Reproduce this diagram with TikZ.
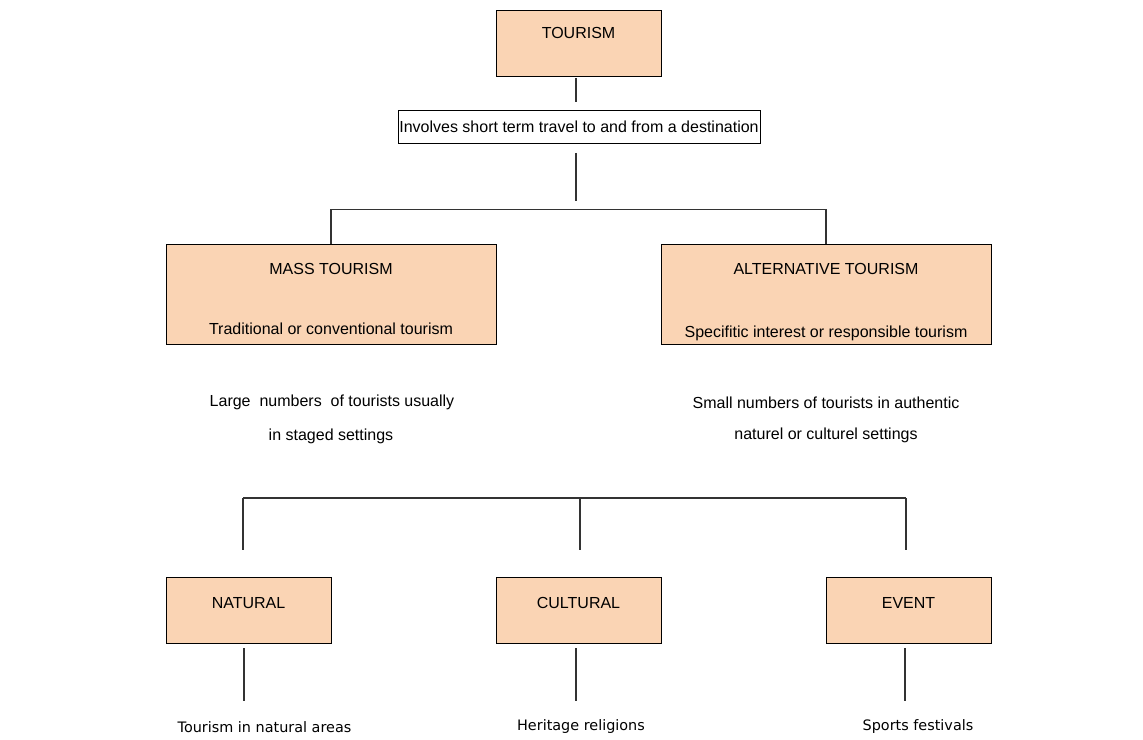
\documentclass[tikz,border=0pt]{standalone}
\usepackage{fontspec}
\setmainfont{Liberation Sans}
\newfontfamily\verdanafont{DejaVu Sans}
\usepackage{tikz}
\usetikzlibrary{positioning,calc}
\definecolor{peach}{HTML}{FAD4B4}

\begin{document}
\begin{tikzpicture}[x=1pt,y=-1pt,
    box/.style={draw, fill=peach, line width=0.9pt, inner sep=0pt},
    txt/.style={font=\fontsize{16}{18}\selectfont, inner sep=0pt},
    small/.style={font=\verdanafont\fontsize{14.4}{17}\selectfont, inner sep=0pt},
    conn/.style={draw=black!80, line width=1.3pt}]
    \useasboundingbox (0,0) rectangle (1143,739);

    \node[box, minimum width=165, minimum height=66] (tourism) at (578.5,43) {};
    \node[txt] (tourismtxt) at (578.5,33) {TOURISM};
    \node[draw, fill=white, line width=0.9pt, txt, minimum width=362, minimum height=33] (involves) at (579,127) {Involves short term travel to and from a destination};

    \node[box, minimum width=330, minimum height=100] (mass) at (331,294) {};
    \node[txt] (masstitle) at (331,269) {MASS TOURISM};
    \node[txt] (masssub) at (331,329) {Traditional or conventional tourism};
    \node[box, minimum width=330, minimum height=100] (alt) at (826,294) {};
    \node[txt] (alttitle) at (826,269) {ALTERNATIVE TOURISM};
    \node[txt] (altsub) at (826,333) {Specifitic interest or responsible tourism};

    \draw[conn] ($(tourism.south)+(-2.5,2)$) -- ($(involves.north)+(-3,-8)$);
    \draw[conn] ($(involves.south)+(-3,9)$) -- ++(0,48);
    \draw[conn] (mass.north) -- ++(0,-34) -| (alt.north);

    \node[txt] (massnote1) at (332,402) {Large\ \ numbers\ \ of tourists usually};
    \node[txt] (massnote2) at (331,436) {in staged settings};
    \node[txt] (altnote1) at (826,403) {Small numbers of tourists in authentic};
    \node[txt] (altnote2) at (826,435) {naturel or culturel settings};

    % forms of alternative tourism
    \coordinate (busleft) at (243,498);
    \coordinate (busmid) at (580,498);
    \coordinate (busright) at (906,498);
    \draw[conn] (busleft) -- (busright);
    \foreach \c in {busleft,busmid,busright}
        \draw[conn] (\c) -- ++(0,52);

    \foreach \name/\x/\lbl/\dx/\note/\nx in {natural/248.5/NATURAL/-4.5/Tourism in natural areas/264.5,
        cultural/578.5/CULTURAL/-2.5/Heritage religions/581,
        event/908.5/EVENT/-3.5/Sports festivals/918} {
        \node[box, minimum width=165, minimum height=66] (\name) at (\x,610) {};
        \node[txt] (\name-txt) at (\x,603) {\lbl};
        \draw[conn] ($(\name.south)+(\dx,5)$) -- ++(0,53);
        \node[small] (\name-note) at (\nx,727) {\note};
    }
\end{tikzpicture}
\end{document}
